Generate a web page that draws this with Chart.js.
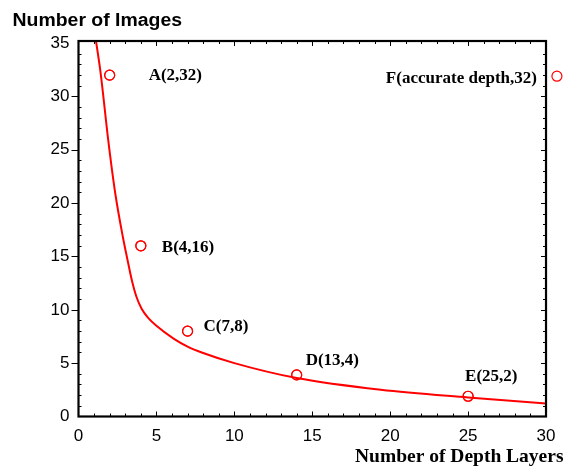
<!DOCTYPE html>
<html>
<head>
<meta charset="utf-8">
<script src="https://cdn.jsdelivr.net/npm/chart.js@4.4.1/dist/chart.umd.min.js"></script>
<style>
  body { margin: 0; background: #fff; }
  canvas { display: block; }
</style>
</head>
<body>
<canvas id="depthChart" width="565" height="469"></canvas>
<script>
// fitted curve
const curveX = [1.05, 1.42, 1.9, 2.35, 2.85, 3.1, 3.45, 3.7, 4.05, 4.5, 5.0, 6.1, 7.0, 8.0, 10, 14, 19.4, 25, 30];
const curveY = [35.9, 32.2, 26.0, 21.0, 16.8, 15.0, 12.6, 11.3, 10.1, 9.2, 8.5, 7.3, 6.55, 5.95, 5.0, 3.6, 2.5, 1.78, 1.22];

// measured points and their names
const pointNames = ['A(2,32)', 'B(4,16)', 'C(7,8)', 'D(13,4)', 'E(25,2)', 'F(accurate depth,32)'];
const pointX = [2, 4, 7, 14, 25, 30.7];
const pointY = [32, 16, 8, 3.9, 1.9, 31.9];

const xTicks = [0, 5, 10, 15, 20, 25, 30];
const yTicks = [0, 5, 10, 15, 20, 25, 30, 35];
const xFrameMax = 30; // the box ends here, the F point sits just outside it

// where each name sits relative to its circle (px)
const nameOffsets = [[39, 0, 'left'], [21, 2, 'left'], [16, -5, 'left'], [9, -14, 'left'], [-3, -20, 'left'], [-20, 2, 'right']];

const frame = {
    id: 'frame',
    afterDraw(chart) {
        const ctx = chart.ctx;
        const { left, top, bottom } = chart.chartArea;
        const xs = chart.scales.x;
        const ys = chart.scales.y;
        const right = xs.getPixelForValue(xFrameMax);

        // blank out anything the chart area holds past the box, then put the circles back
        ctx.save();
        ctx.fillStyle = '#fff';
        ctx.fillRect(right + 1, top - 3, chart.width - right, bottom - top + 6);

        ctx.strokeStyle = '#000';
        ctx.lineWidth = 1;
        ctx.beginPath();
        for (let v = 1; v < xFrameMax; v++) {
            const px = Math.round(xs.getPixelForValue(v)) + 0.5;
            const len = v % 5 === 0 ? 5 : 3;
            ctx.moveTo(px, bottom); ctx.lineTo(px, bottom - len);
            ctx.moveTo(px, top); ctx.lineTo(px, top + len);
        }
        for (let v = 1; v < 35; v++) {
            const py = Math.round(ys.getPixelForValue(v)) + 0.5;
            if (v % 5 === 0) {
                ctx.moveTo(left - 7, py); ctx.lineTo(left, py);
                ctx.moveTo(right, py); ctx.lineTo(right - 5, py);
            } else {
                ctx.moveTo(left, py); ctx.lineTo(left + 3, py);
                ctx.moveTo(right, py); ctx.lineTo(right - 3, py);
            }
        }
        ctx.stroke();
        ctx.lineWidth = 2.2;
        ctx.strokeRect(left, top, right - left, bottom - top);

        chart.getDatasetMeta(1).data.forEach(pt => pt.draw(ctx));

        // point names
        ctx.fillStyle = '#000';
        ctx.font = 'bold 17px "Liberation Serif", "Times New Roman", serif';
        ctx.textBaseline = 'middle';
        pointNames.forEach((name, i) => {
            const px = xs.getPixelForValue(pointX[i]);
            const py = ys.getPixelForValue(pointY[i]);
            const [dx, dy, align] = nameOffsets[i];
            ctx.textAlign = align;
            ctx.fillText(name, px + dx, py + dy);
        });

        // axis titles
        ctx.textAlign = 'left';
        ctx.textBaseline = 'alphabetic';
        ctx.font = 'bold 19.5px "Liberation Serif", "Times New Roman", serif';
        ctx.fillText('Number of Depth Layers', 355, 462);

        ctx.font = 'bold 18px "Liberation Sans", Arial, sans-serif';
        ctx.translate(12.5, 25.7);
        ctx.scale(1.08, 1);
        ctx.fillText('Number of Images', 0, 0);
        ctx.restore();
    }
};

const tickFont = { family: '"Liberation Sans", Arial, sans-serif', size: 17 };

new Chart(document.getElementById('depthChart'), {
    type: 'scatter',
    data: {
        datasets: [
            {
                data: curveX.map((x, i) => ({ x: x, y: curveY[i] })),
                showLine: true,
                borderColor: '#ff0000',
                borderWidth: 2,
                pointRadius: 0,
                cubicInterpolationMode: 'monotone'
            },
            {
                data: pointX.map((x, i) => ({ x: x, y: pointY[i] })),
                pointStyle: 'circle',
                pointRadius: 5,
                borderColor: '#ff0000',
                borderWidth: 1.2,
                backgroundColor: 'rgba(255,255,255,0)',
                clip: false
            }
        ]
    },
    options: {
        responsive: false,
        animation: false,
        devicePixelRatio: 1,
        // x runs to 31 so 30 lands at the box edge and F still counts as inside the chart area
        layout: { autoPadding: false, padding: { top: 41, right: 3.4, left: 0, bottom: 0 } },
        plugins: {
            legend: { display: false },
            tooltip: { enabled: false }
        },
        scales: {
            x: {
                type: 'linear',
                min: 0,
                max: 31,
                grid: { display: false, drawTicks: false },
                border: { display: false },
                afterBuildTicks: s => { s.ticks = xTicks.map(v => ({ value: v })); },
                afterFit: s => { s.height = 52.5; s.paddingLeft = 0; s.paddingRight = 0; },
                ticks: { color: '#000', font: tickFont, padding: 10, maxRotation: 0, autoSkip: false }
            },
            y: {
                type: 'linear',
                min: 0,
                max: 35.2,
                grid: { display: false, drawTicks: false },
                border: { display: false },
                afterBuildTicks: s => { s.ticks = yTicks.map(v => ({ value: v })); },
                afterFit: s => { s.width = 78.5; s.paddingTop = 0; s.paddingBottom = 0; },
                ticks: { color: '#000', font: tickFont, padding: 9, autoSkip: false }
            }
        }
    },
    plugins: [frame]
});
</script>
</body>
</html>
